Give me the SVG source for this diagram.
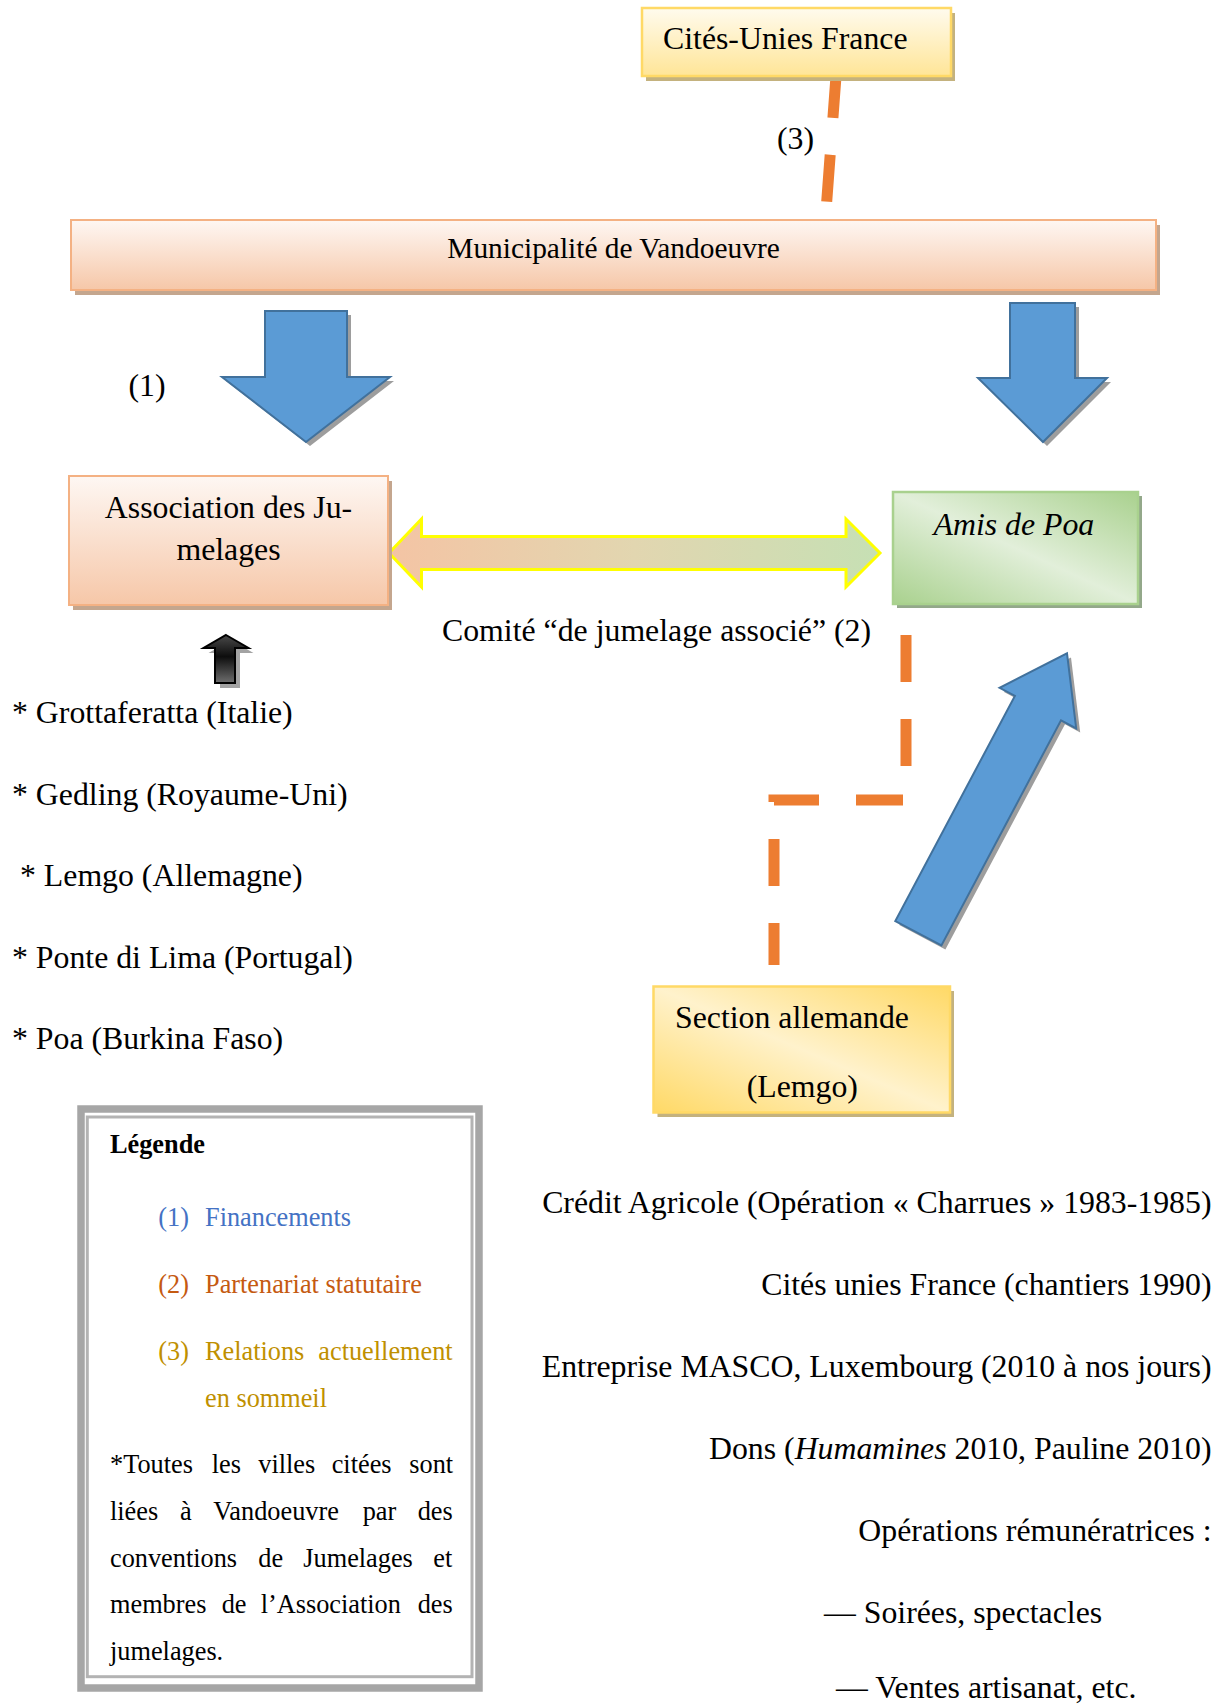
<svg xmlns="http://www.w3.org/2000/svg" width="1221" height="1708" viewBox="0 0 1221 1708">
<defs>
<style>
text{font-family:"Liberation Serif","Times New Roman",serif;fill:#000}
.t{font-size:31.8px}
.tm{font-size:29.4px}
.lg{font-size:26.3px}
.orangeBox{fill:url(#gOrange);stroke:#f4b183;stroke-width:2}
.orangeSh{fill:#c4a68e}
.yellowSh{fill:#c4b27e}
.greenSh{fill:#93a88a}
.blue{fill:#5b9bd5;stroke:#41719c;stroke-width:2;stroke-linejoin:miter}
.bsh{fill:#8c8c8c;opacity:0.85}
.dash{fill:none;stroke:#ed7d31;stroke-width:11;stroke-dasharray:47 37}
.leg-frame{fill:#fff;stroke:#a6a6a6;stroke-width:7.5}
.leg-inner{fill:none;stroke:#b3b3b3;stroke-width:3}
</style>
<linearGradient id="gOrange" x1="0" y1="0" x2="0" y2="1">
<stop offset="0" stop-color="#fef7f3"/>
<stop offset="1" stop-color="#f6c7a8"/>
</linearGradient>
<linearGradient id="gYellowV" x1="0" y1="0" x2="0" y2="1">
<stop offset="0" stop-color="#fffbee"/>
<stop offset="1" stop-color="#ffe597"/>
</linearGradient>
<linearGradient id="gGreen" x1="1" y1="0" x2="0" y2="1">
<stop offset="0" stop-color="#a9d18e"/>
<stop offset="0.5" stop-color="#e2efda"/>
<stop offset="1" stop-color="#a9d18e"/>
</linearGradient>
<linearGradient id="gYellowD" x1="1" y1="0" x2="0" y2="1">
<stop offset="0" stop-color="#ffd966"/>
<stop offset="0.5" stop-color="#fff2cc"/>
<stop offset="1" stop-color="#ffd966"/>
</linearGradient>
<linearGradient id="gDouble" x1="0" y1="0" x2="1" y2="0">
<stop offset="0" stop-color="#f4c4a4"/>
<stop offset="0.5" stop-color="#e2d6b0"/>
<stop offset="1" stop-color="#c6e0b4"/>
</linearGradient>
<linearGradient id="gBlack" x1="0" y1="0" x2="0" y2="1">
<stop offset="0" stop-color="#4a4a4a"/>
<stop offset="0.45" stop-color="#0d0d0d"/>
<stop offset="1" stop-color="#6e6e6e"/>
</linearGradient>
</defs>
<rect width="1221" height="1708" fill="#fff"/>

<g id="connectors">
  <!-- (3) Cités-Unies France - Municipalité -->
  <path class="dash" d="M836.4,71 L825.5,218"/>
  <text class="t" x="777" y="149">(3)</text>
  <!-- (1) financing arrows -->
  <polygon class="bsh" points="269,315 351,315 351,381 394,381 310,446 226,381 269,381"/>
  <polygon class="blue" points="265,311 347,311 347,377 390,377 306,442 222,377 265,377"/>
  <text class="t" x="128.5" y="396">(1)</text>
  <polygon class="bsh" points="1014,307 1079,307 1079,382 1111,382 1047,446 982,382 1014,382"/>
  <polygon class="blue" points="1010,303 1075,303 1075,378 1107,378 1043,442 978,378 1010,378"/>
  <!-- double arrow Association <-> Amis de Poa -->
  <polygon points="389,553 421.5,519 421.5,536.5 846,536.5 846,519 880,553 846,587 846,569.5 421.5,569.5 421.5,587" fill="url(#gDouble)" stroke="#ffff00" stroke-width="3" stroke-linejoin="miter"/>
  <text class="t" x="442" y="641">Comité “de jumelage associé” (2)</text>
  <!-- (2) Amis de Poa - Section allemande -->
  <path class="dash" d="M906,605 L906,800 L774,800 L774,965" stroke-dashoffset="54"/>
  <!-- diagonal financing arrow -->
  <polygon class="bsh" points="1071,657.4 1080.2,732.5 1065,724.3 945.4,949.5 899.3,925.1 1018.9,699.9 1003.6,691.8"/>
  <polygon class="blue" points="1067,653.4 1076.2,728.5 1061,720.3 941.4,945.5 895.3,921.1 1014.9,695.9 999.6,687.8"/>
  <!-- cities -> Association -->
  <polygon points="231,640 253.5,653 240,653 240,688 220,688 220,653 208.5,653" fill="#8c8c8c" opacity="0.8"/>
  <polygon points="226,635 248.5,648 235,648 235,683 215,683 215,648 203.5,648" fill="url(#gBlack)" stroke="#000" stroke-width="2"/>
</g>

<g id="cites-unies-france">
  <rect class="yellowSh" x="646" y="13" width="309" height="68"/>
  <rect x="642" y="8" width="309" height="68" fill="url(#gYellowV)" stroke="#ffd966" stroke-width="2.5"/>
  <text class="t" x="663" y="49">Cités-Unies France</text>
</g>

<g id="municipalite">
  <rect class="orangeSh" x="75" y="225" width="1085" height="70"/>
  <rect class="orangeBox" x="71" y="220" width="1085" height="70"/>
  <text class="tm" x="613.5" y="258" text-anchor="middle">Municipalité de Vandoeuvre</text>
</g>

<g id="association-jumelages">
  <rect class="orangeSh" x="73" y="481" width="319" height="129"/>
  <rect class="orangeBox" x="69" y="476" width="319" height="129"/>
  <text class="t" x="228.5" y="518" text-anchor="middle">Association des Ju-</text>
  <text class="t" x="228.5" y="560" text-anchor="middle">melages</text>
</g>

<g id="amis-de-poa">
  <rect class="greenSh" x="897" y="496" width="245" height="112"/>
  <rect x="893" y="492" width="245" height="112" fill="url(#gGreen)" stroke="#a9d18e" stroke-width="2.5"/>
  <text class="t" x="933.5" y="535" font-style="italic">Amis de Poa</text>
</g>

<g id="section-allemande">
  <rect class="yellowSh" x="657.5" y="991" width="296.5" height="126"/>
  <rect x="653.5" y="986.5" width="296.5" height="126" fill="url(#gYellowD)" stroke="#ffd966" stroke-width="2.5"/>
  <text class="t" x="675" y="1028">Section allemande</text>
  <text class="t" x="746.7" y="1097">(Lemgo)</text>
</g>

<g id="villes">
  <text class="t" x="12" y="722.5">* Grottaferatta (Italie)</text>
  <text class="t" x="12" y="804.5">* Gedling (Royaume-Uni)</text>
  <text class="t" x="20" y="886">* Lemgo (Allemagne)</text>
  <text class="t" x="12" y="967.5">* Ponte di Lima (Portugal)</text>
  <text class="t" x="12" y="1049">* Poa (Burkina Faso)</text>
</g>

<g id="legende">
  <rect class="leg-frame" x="81" y="1109" width="398" height="579"/>
  <rect class="leg-inner" x="87.3" y="1117" width="384.7" height="559.7"/>
  <text class="lg" x="110" y="1153" font-weight="bold">Légende</text>
  <text class="lg" y="1226" style="fill:#4472c4"><tspan x="158.3">(1)</tspan><tspan x="205">Financements</tspan></text>
  <text class="lg" y="1293.3" style="fill:#c55a11"><tspan x="158.3">(2)</tspan><tspan x="205">Partenariat statutaire</tspan></text>
  <text class="lg" y="1360" style="fill:#bf9000"><tspan x="158.3">(3)</tspan><tspan x="205">Relations</tspan><tspan x="318.3">actuellement</tspan></text>
  <text class="lg" x="205" y="1406.5" style="fill:#bf9000">en sommeil</text>
  <text class="lg" y="1473.3"><tspan x="110">*Toutes</tspan><tspan x="211.7">les</tspan><tspan x="258.3">villes</tspan><tspan x="331.7">citées</tspan><tspan x="409.3">sont</tspan></text>
  <text class="lg" y="1520"><tspan x="110">liées</tspan><tspan x="180">à</tspan><tspan x="213.3">Vandoeuvre</tspan><tspan x="362.7">par</tspan><tspan x="417.7">des</tspan></text>
  <text class="lg" y="1566.7"><tspan x="110">conventions</tspan><tspan x="258.3">de</tspan><tspan x="303.3">Jumelages</tspan><tspan x="433.3">et</tspan></text>
  <text class="lg" y="1613.3"><tspan x="110">membres</tspan><tspan x="221.7">de</tspan><tspan x="260.7">l’Association</tspan><tspan x="417.7">des</tspan></text>
  <text class="lg" x="110" y="1660">jumelages.</text>
</g>

<g id="financements-poa">
  <text class="t" x="1211.5" y="1212.5" text-anchor="end">Crédit Agricole (Opération « Charrues » 1983-1985)</text>
  <text class="t" x="1211.5" y="1294.5" text-anchor="end">Cités unies France (chantiers 1990)</text>
  <text class="t" x="1211.5" y="1377" text-anchor="end">Entreprise MASCO, Luxembourg (2010 à nos jours)</text>
  <text class="t" x="1211.5" y="1459" text-anchor="end">Dons (<tspan font-style="italic">Humamines</tspan> 2010, Pauline 2010)</text>
  <text class="t" x="1211.5" y="1541" text-anchor="end">Opérations rémunératrices :</text>
  <text class="t" x="824" y="1623">— Soirées, spectacles</text>
  <text class="t" x="836" y="1698">— Ventes artisanat, etc.</text>
</g>
</svg>
